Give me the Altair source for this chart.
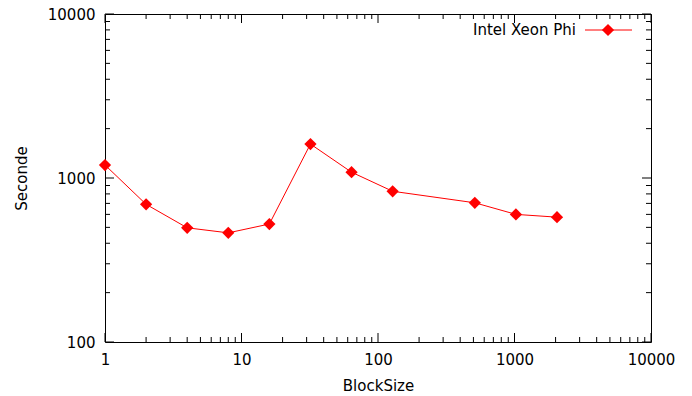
import altair as alt
import pandas as pd

# ---- data ----
block_sizes = [1, 2, 4, 8, 16, 32, 64, 128, 512, 1024, 2048]
seconds = [1200, 691, 497, 463, 524, 1611, 1085, 830, 706, 600, 577]
series_name = "Intel Xeon Phi"

x_major = [1, 10, 100, 1000, 10000]
x_minor = [m * d for d in [1, 10, 100, 1000] for m in range(2, 10)]
y_major = [100, 1000, 10000]
y_minor = [m * d for d in [100, 1000] for m in range(2, 10)]

W, H = 546, 328
FONT = "DejaVu Sans"
FS = 15
MAJ, MIN = 9, 5

df = pd.DataFrame({"BlockSize": block_sizes, "Seconde": seconds})

xscale = alt.Scale(type="log", domain=[1, 10000], nice=False)
yscale = alt.Scale(type="log", domain=[100, 10000], nice=False)

base = alt.Chart(df)

line = base.mark_line(color="#ff0000", strokeWidth=1).encode(
    x=alt.X("BlockSize:Q", scale=xscale,
            axis=alt.Axis(values=x_major, format="d", title="BlockSize",
                          ticks=False, tickSize=0, domain=False, grid=False,
                          labelPadding=17, labelBaseline="middle",
                          labelFlush=False, labelOverlap=False,
                          titleY=43, titleBaseline="middle")),
    y=alt.Y("Seconde:Q", scale=yscale,
            axis=alt.Axis(values=y_major, format="d", title="Seconde",
                          ticks=False, tickSize=0, domain=False, grid=False,
                          labelPadding=10, labelFlush=False, labelOverlap=False,
                          titleX=-84, titleY=H / 2, titleAngle=-90,
                          titleAlign="center", titleBaseline="middle")),
)
points = base.mark_point(shape="diamond", size=150, filled=True,
                         color="#ff0000", opacity=1).encode(
    x=alt.X("BlockSize:Q", scale=xscale),
    y=alt.Y("Seconde:Q", scale=yscale),
)


def xticks(vals, length):
    d = pd.DataFrame({"v": vals})
    bottom = alt.Chart(d).mark_rule(color="black", strokeWidth=1).encode(
        x=alt.X("v:Q", scale=xscale),
        y=alt.value(H), y2=alt.value(H - length))
    top = alt.Chart(d).mark_rule(color="black", strokeWidth=1).encode(
        x=alt.X("v:Q", scale=xscale),
        y=alt.value(0), y2=alt.value(length))
    return [bottom, top]


def yticks(vals, length):
    d = pd.DataFrame({"v": vals})
    left = alt.Chart(d).mark_rule(color="black", strokeWidth=1).encode(
        y=alt.Y("v:Q", scale=yscale),
        x=alt.value(0), x2=alt.value(length))
    right = alt.Chart(d).mark_rule(color="black", strokeWidth=1).encode(
        y=alt.Y("v:Q", scale=yscale),
        x=alt.value(W), x2=alt.value(W - length))
    return [left, right]


ticks = (xticks(x_major, MAJ) + xticks(x_minor, MIN)
         + yticks(y_major, MAJ) + yticks(y_minor, MIN))

leg_df = pd.DataFrame({"name": [series_name]})
leg_text = alt.Chart(leg_df).mark_text(
    align="right", baseline="middle", font=FONT, fontSize=FS, color="black"
).encode(text="name:N", x=alt.value(471), y=alt.value(16))
leg_line = alt.Chart(leg_df).mark_rule(color="#ff0000", strokeWidth=1).encode(
    x=alt.value(480), x2=alt.value(527), y=alt.value(16))
leg_pt = alt.Chart(leg_df).mark_point(shape="diamond", size=150, filled=True,
                                      color="#ff0000", opacity=1).encode(
    x=alt.value(503), y=alt.value(16))

chart = alt.layer(line, *ticks, points, leg_line, leg_pt, leg_text).properties(
    width=W, height=H,
    autosize=alt.AutoSizeParams(type="none"),
    padding={"left": 105, "top": 14, "right": 41, "bottom": 54},
    background="white",
).configure_view(
    stroke="black", strokeWidth=1
).configure_axis(
    labelFont=FONT, titleFont=FONT, labelFontSize=FS, titleFontSize=FS,
    labelColor="black", titleColor="black", titleFontWeight="normal",
)

chart.save("out.html", embed_options={"renderer": "svg", "actions": False})
